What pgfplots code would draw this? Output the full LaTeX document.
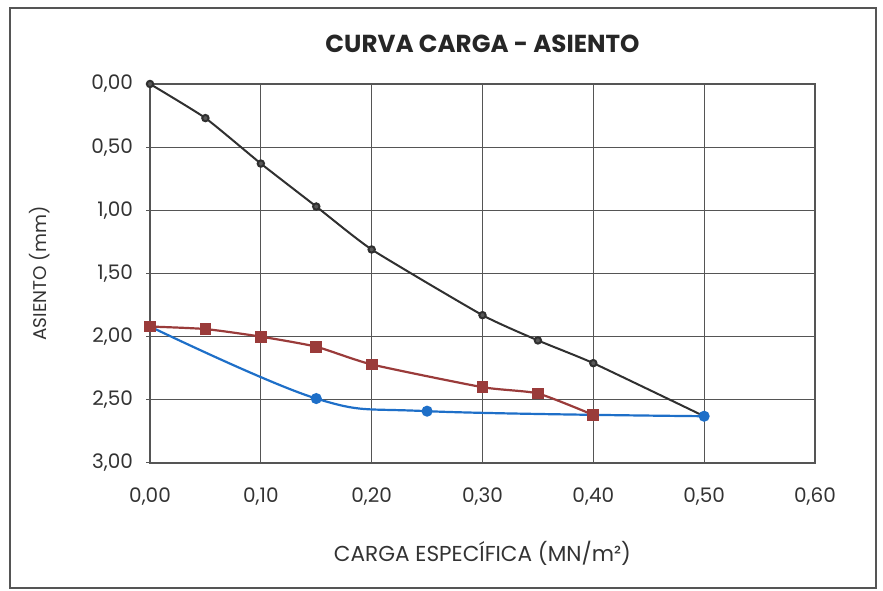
\documentclass[border=0pt]{standalone}
\usepackage{pgfplots}
\pgfplotsset{compat=1.18}
\usepackage{fontspec}
\setmainfont{Poppins}
\definecolor{serred}{HTML}{9A3B3A}
\definecolor{serblue}{HTML}{1E6FC8}
\definecolor{serblack}{HTML}{303030}
\definecolor{gridc}{HTML}{555555}
\begin{document}
\begin{tikzpicture}
\begin{axis}[
  scale only axis,
  width=332.5pt, height=189.5pt,
  xmin=0, xmax=0.6, ymin=0, ymax=3,
  y dir=reverse,
  xtick={0,0.1,...,0.6}, ytick={0,0.5,...,3},
  /pgf/number format/.cd, fixed, fixed zerofill, precision=2, use comma, assume math mode=true,
  /pgfplots/.cd,
  grid=major,
  major grid style={gridc, line width=0.55pt},
  axis line style={gridc, line width=0.65pt},
  xtick style={draw=none},
  ytick style={gridc, line width=0.5pt},
  ytick pos=left,
  xtick pos=bottom,
  tick align=outside,
  major tick length=2pt,
  ticklabel style={font=\fontsize{10}{12}\selectfont, text=black!80},
  xticklabel style={yshift=-7pt},
  yticklabel style={xshift=-3pt},
  title={\bfseries CURVA CARGA - ASIENTO},
  title style={font=\fontsize{12.3}{14}\selectfont, text=black!85, yshift=6pt},
  xlabel={CARGA ESPECÍFICA (MN/m²)},
  ylabel={ASIENTO (mm)},
  xlabel style={font=\fontsize{10.8}{12}\selectfont, text=black!80, yshift=-11pt},
  ylabel style={font=\fontsize{9.2}{11}\selectfont, text=black!80, yshift=14pt},
  clip=false,
]
\addplot[serblack, line width=1pt, smooth, tension=0.3, mark=*, mark size=1.6pt, mark options={fill=serblack!80}]
  coordinates {(0,0) (0.05,0.27) (0.10,0.63) (0.15,0.97) (0.20,1.31) (0.30,1.83) (0.35,2.03) (0.40,2.21) (0.50,2.63)};
\addplot[serblue, line width=1.1pt, smooth, tension=0.6, mark=*, mark size=2.2pt, mark options={fill=serblue}]
  coordinates {(0,1.92) (0.15,2.49) (0.25,2.59) (0.50,2.63)};
\addplot[serred, line width=1.1pt, smooth, tension=0.35, mark=square*, mark size=2.4pt, mark options={fill=serred}]
  coordinates {(0,1.92) (0.05,1.94) (0.10,2.00) (0.15,2.08) (0.20,2.22) (0.30,2.40) (0.35,2.45) (0.40,2.62)};
\path[use as bounding box] (rel axis cs:-0.2256,-0.3377) rectangle (rel axis cs:1.1023,1.2216);
\draw[gridc, line width=0.9pt] (rel axis cs:-0.2105,-0.3298) rectangle (rel axis cs:1.0917,1.2005);
\end{axis}
\end{tikzpicture}
\end{document}
